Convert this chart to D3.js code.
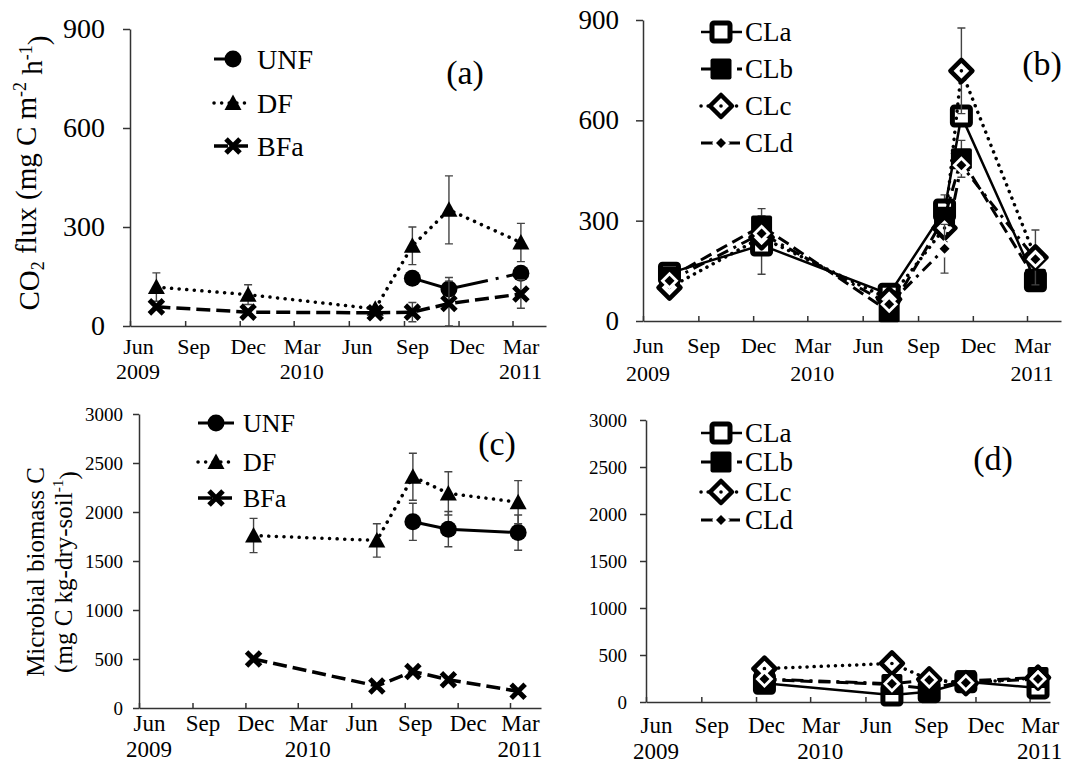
<!DOCTYPE html>
<html>
<head>
<meta charset="utf-8">
<script src="https://cdn.jsdelivr.net/npm/d3@7"></script>
<style>
  body { margin: 0; background: #fff; }
  svg { display: block; }
  svg text { font-family: "Liberation Serif", "Times New Roman", serif; fill: #000; }
</style>
</head>
<body>
<svg id="chart"></svg>
<script>
const width = 1076;
const height = 767;

const parseDate = d3.timeParse("%Y-%m-%d");

// shared x axis
const monthLabels = ["Jun", "Sep", "Dec", "Mar", "Jun", "Sep", "Dec", "Mar"];
const monthTicks = ["2009-06-01", "2009-09-01", "2009-12-01", "2010-03-01",
                    "2010-06-01", "2010-09-01", "2010-12-01", "2011-03-01"];
const yearLabels = ["2009", "2010", "2011"];
const yearTicks = ["2009-06-01", "2010-03-01", "2011-03-01"];

// (a) CO2 flux, forest sites
const datesA = ["2009-07-15", "2009-12-15", "2010-07-15", "2010-09-15", "2010-11-15", "2011-03-15"];
const unfA = [null, null, null, 145, 112, 160];
const unfAErr = [0, 0, 0, 0, 35, 0];
const dfA = [118, 95, 52, 243, 352, 253];
const dfAErr = [43, 30, 0, 57, 103, 58];
const bfaA = [58, 42, 40, 42, 68, 97];
const bfaAErr = [0, 0, 0, 29, 68, 43];

// (b) CO2 flux, cropland sites
const datesB = ["2009-07-15", "2009-12-15", "2010-07-15", "2010-10-15", "2010-11-12", "2011-03-15"];
const claB = [143, 227, 80, 332, 613, 120];
const claBErr = [0, 87, 0, 45, 0, 0];
const clbB = [130, 284, 28, 310, 485, 125];
const clbBErr = [0, 52, 0, 0, 55, 0];
const clcB = [100, 250, 65, 278, 748, 190];
const clcBErr = [0, 0, 0, 0, 128, 82];
const cldB = [120, 262, 50, 216, 466, 185];
const cldBErr = [0, 0, 0, 73, 0, 0];

// (c) microbial biomass C, forest sites
const datesC = ["2009-12-15", "2010-07-15", "2010-09-15", "2010-11-15", "2011-03-15"];
const unfC = [null, null, 1900, 1825, 1790];
const unfCErr = [0, 0, 190, 180, 180];
const dfC = [1760, 1710, 2360, 2190, 2100];
const dfCErr = [175, 170, 240, 220, 220];
const bfaC = [500, 225, 373, 289, 170];
const bfaCErr = [0, 0, 0, 0, 0];

// (d) microbial biomass C, cropland sites
const datesD = ["2009-12-15", "2010-07-15", "2010-09-15", "2010-11-15", "2011-03-15"];
const claD = [200, 75, 110, 215, 150];
const clbD = [240, 185, 140, 225, 260];
const clcD = [355, 410, 240, 200, 260];
const cldD = [245, 195, 235, 205, 245];
const noErrD = [0, 0, 0, 0, 0];

const svg = d3.select("#chart")
  .attr("width", width)
  .attr("height", height)
  .attr("viewBox", [0, 0, width, height]);

svg.append("rect").attr("width", width).attr("height", height).attr("fill", "#fff");

function drawMarker(g, type, cx, cy) {
  const m = g.append("g").attr("transform", `translate(${cx},${cy})`);
  switch (type) {
    case "circle":
      m.append("circle").attr("r", 8.5).attr("fill", "#000");
      break;
    case "triangle":
      m.append("path").attr("d", "M0,-8.5L8.5,7L-8.5,7Z").attr("fill", "#000");
      break;
    case "cross":
      m.append("path").attr("d", "M-7,-7L7,7M-7,7L7,-7")
        .attr("stroke", "#000").attr("stroke-width", 5);
      break;
    case "squareOpen":
      m.append("rect").attr("x", -9).attr("y", -9).attr("width", 18).attr("height", 18)
        .attr("rx", 2).attr("fill", "#fff").attr("stroke", "#000").attr("stroke-width", 5);
      break;
    case "squareFilled":
      m.append("rect").attr("x", -10.5).attr("y", -10.5).attr("width", 21).attr("height", 21)
        .attr("rx", 2).attr("fill", "#000");
      break;
    case "diamondOpen":
      m.append("path").attr("d", "M0,-11L11,0L0,11L-11,0Z")
        .attr("fill", "#fff").attr("stroke", "#000").attr("stroke-width", 4.5)
        .attr("stroke-linejoin", "round");
      m.append("circle").attr("r", 1.8).attr("fill", "#000");
      break;
    case "diamondSmall":
      m.append("path").attr("d", "M0,-9L9,0L0,9L-9,0Z").attr("fill", "#fff");
      m.append("path").attr("d", "M0,-5L5,0L0,5L-5,0Z").attr("fill", "#000");
      break;
  }
}

function styleLine(sel, s) {
  return sel.attr("fill", "none")
    .attr("stroke", "#000")
    .attr("stroke-width", s.width)
    .attr("stroke-dasharray", s.dash)
    .attr("stroke-linecap", s.cap || "butt");
}

function drawPanel(p) {
  const g = svg.append("g");

  const t0 = parseDate(monthTicks[0]);
  const tMar = parseDate(monthTicks[monthTicks.length - 1]);
  const x = d3.scaleTime().domain([t0, tMar]).range([p.x0, p.xMar]);
  x.domain([t0, x.invert(p.xEnd)]).range([p.x0, p.xEnd]);

  const y = d3.scaleLinear().domain([0, p.yMax]).range([p.yBottom, p.yTop]);

  // y axis
  const ya = g.append("g")
    .attr("transform", `translate(${p.x0},0)`)
    .call(d3.axisLeft(y)
      .tickValues(d3.range(0, p.yMax + 1, p.yStep))
      .tickFormat(d3.format("d"))
      .tickSizeOuter(0)
      .tickSizeInner(p.yTickLen)
      .tickPadding(p.yPad));
  ya.attr("font-family", null);
  ya.select(".domain").attr("stroke", "#333").attr("stroke-width", 1.5);
  ya.selectAll(".tick line").attr("stroke", "#333").attr("stroke-width", 1.5);
  ya.selectAll(".tick text")
    .style("font-size", p.yFont + "px");

  // x axis, ticks point inward
  const xa = g.append("g")
    .attr("transform", `translate(0,${p.yBottom})`)
    .call(d3.axisBottom(x)
      .tickValues(monthTicks.map(parseDate))
      .tickSizeInner(-5)
      .tickSizeOuter(0)
      .tickFormat((d, i) => monthLabels[i]));
  xa.attr("font-family", null);
  xa.select(".domain").attr("stroke", "#333").attr("stroke-width", 1.5);
  xa.selectAll(".tick line").attr("stroke", "#333").attr("stroke-width", 1.5);
  xa.selectAll(".tick text")
    .style("font-size", p.monthFont + "px")
    .attr("x", p.labelDx)
    .attr("y", p.monthBase - p.yBottom)
    .attr("dy", 0);

  g.selectAll(".year")
    .data(yearTicks)
    .join("text")
    .attr("x", d => x(parseDate(d)) + p.labelDx)
    .attr("y", p.yearBase)
    .attr("text-anchor", "middle")
    .style("font-size", p.monthFont + "px")
    .text((d, i) => yearLabels[i]);

  // series
  p.series.forEach(s => {
    const pts = p.dates.map((d, i) => ({ t: parseDate(d), v: s.values[i], e: s.errs[i] }));
    const line = d3.line()
      .defined(d => d.v != null)
      .x(d => x(d.t))
      .y(d => y(d.v));

    styleLine(g.append("path").attr("d", line(pts)), s);

    pts.filter(d => d.v != null && d.e > 0).forEach(d => {
      const cx = x(d.t);
      const lo = y(Math.max(0, d.v - d.e));
      const hi = y(d.v + d.e);
      g.append("path")
        .attr("d", `M${cx},${lo}V${hi}M${cx - 4},${hi}H${cx + 4}M${cx - 4},${lo}H${cx + 4}`)
        .attr("stroke", "#444")
        .attr("stroke-width", 1.4)
        .attr("fill", "none");
    });

    pts.filter(d => d.v != null).forEach(d => drawMarker(g, s.marker, x(d.t), y(d.v)));
  });

  // legend
  p.series.forEach((s, i) => {
    const ly = p.legend.rows[i];
    styleLine(g.append("line")
      .attr("x1", p.legend.x0).attr("x2", s.legendLeftOnly ? p.legend.mx : p.legend.x1)
      .attr("y1", ly).attr("y2", ly), s);
    drawMarker(g, s.marker, p.legend.mx, ly);
    g.append("text")
      .attr("x", p.legend.tx)
      .attr("y", ly)
      .attr("dy", "0.34em")
      .style("font-size", p.legend.font + "px")
      .text(s.name);
  });

  // panel tag
  g.append("text")
    .attr("x", p.tag.x)
    .attr("y", p.tag.y)
    .attr("text-anchor", "middle")
    .style("font-size", p.tag.font + "px")
    .text(p.tag.text);

  // y label
  if (p.yLabel) {
    const fs = p.yLabel.font;
    p.yLabel.lines.forEach(ln => {
      const t = g.append("text")
        .attr("transform", `translate(${ln.x},${p.yLabel.cy}) rotate(-90)`)
        .attr("text-anchor", "middle")
        .style("font-size", fs + "px");
      ln.parts.forEach(part => {
        const ts = t.append("tspan").text(part.text);
        if (part.dy) ts.attr("dy", part.dy);
        ts.style("font-size", (part.small ? fs * 0.62 : fs) + "px");
      });
    });
  }
}

const unfStyleA = { name: "UNF", marker: "circle", width: 3, dash: "78,8,3,8", legendLeftOnly: true };
const dfStyle = { name: "DF", marker: "triangle", width: 3.5, dash: "0.1,7.5", cap: "round" };
const bfaStyle = { name: "BFa", marker: "cross", width: 3.5, dash: "14,6" };
const claStyle = { name: "CLa", marker: "squareOpen", width: 2.5, dash: null };
const clbStyle = { name: "CLb", marker: "squareFilled", width: 3, dash: "12,6" };
const clcStyle = { name: "CLc", marker: "diamondOpen", width: 3.5, dash: "0.1,7", cap: "round" };
const cldStyle = { name: "CLd", marker: "diamondSmall", width: 3, dash: "12,6,3,6" };

// (a)
drawPanel({
  x0: 130, xMar: 512.5, xEnd: 546,
  yTop: 29, yBottom: 326, yMax: 900, yStep: 300,
  yFont: 28, yTickLen: 7, yPad: 18,
  monthFont: 22, monthBase: 354, yearBase: 379, labelDx: 8,
  dates: datesA,
  series: [
    { ...unfStyleA, values: unfA, errs: unfAErr },
    { ...dfStyle, values: dfA, errs: dfAErr },
    { ...bfaStyle, values: bfaA, errs: bfaAErr }
  ],
  legend: { x0: 214, x1: 252, mx: 233, tx: 257, rows: [59, 103, 146], font: 28 },
  tag: { text: "(a)", x: 465, y: 84, font: 34 },
  yLabel: {
    cy: 173, font: 29,
    lines: [{
      x: 39,
      parts: [
        { text: "CO" }, { text: "2", small: true, dy: "0.3em" },
        { text: " flux (mg C m", dy: "-0.3em" }, { text: "-2", small: true, dy: "-0.55em" },
        { text: " h", dy: "0.55em" }, { text: "-1", small: true, dy: "-0.55em" },
        { text: ")", dy: "0.55em" }
      ]
    }]
  }
});

// (b)
drawPanel({
  x0: 643, xMar: 1027, xEnd: 1061,
  yTop: 20, yBottom: 321, yMax: 900, yStep: 300,
  yFont: 27, yTickLen: 7, yPad: 17,
  monthFont: 22, monthBase: 353, yearBase: 381, labelDx: 5,
  dates: datesB,
  series: [
    { ...claStyle, values: claB, errs: claBErr },
    { ...clbStyle, values: clbB, errs: clbBErr },
    { ...clcStyle, values: clcB, errs: clcBErr },
    { ...cldStyle, values: cldB, errs: cldBErr }
  ],
  legend: { x0: 701, x1: 742, mx: 721, tx: 745, rows: [32, 69, 106, 143], font: 27 },
  tag: { text: "(b)", x: 1042, y: 75, font: 34 }
});

// (c)
drawPanel({
  x0: 139, xMar: 510, xEnd: 541,
  yTop: 414, yBottom: 708, yMax: 3000, yStep: 500,
  yFont: 19, yTickLen: 6, yPad: 10,
  monthFont: 23, monthBase: 731, yearBase: 757, labelDx: 10,
  dates: datesC,
  series: [
    { ...unfStyleA, dash: null, legendLeftOnly: false, values: unfC, errs: unfCErr },
    { ...dfStyle, values: dfC, errs: dfCErr },
    { ...bfaStyle, values: bfaC, errs: bfaCErr }
  ],
  legend: { x0: 198, x1: 234, mx: 216, tx: 243, rows: [423, 462, 498], font: 26 },
  tag: { text: "(c)", x: 497, y: 455, font: 34 },
  yLabel: {
    cy: 572, font: 25,
    lines: [
      { x: 44, parts: [{ text: "Microbial biomass C" }] },
      { x: 72, parts: [{ text: "(mg C kg-dry-soil" }, { text: "-1", small: true, dy: "-0.55em" }, { text: ")", dy: "0.55em" }] }
    ]
  }
});

// (d)
drawPanel({
  x0: 646, xMar: 1029.6, xEnd: 1050,
  yTop: 420, yBottom: 702, yMax: 3000, yStep: 500,
  yFont: 19, yTickLen: 6, yPad: 13,
  monthFont: 23, monthBase: 733, yearBase: 759, labelDx: 10,
  dates: datesD,
  series: [
    { ...claStyle, values: claD, errs: noErrD },
    { ...clbStyle, values: clbD, errs: noErrD },
    { ...clcStyle, values: clcD, errs: noErrD },
    { ...cldStyle, values: cldD, errs: noErrD }
  ],
  legend: { x0: 701, x1: 742, mx: 721, tx: 745, rows: [433, 462, 492, 520], font: 27 },
  tag: { text: "(d)", x: 993, y: 470, font: 34 }
});
</script>
</body>
</html>
